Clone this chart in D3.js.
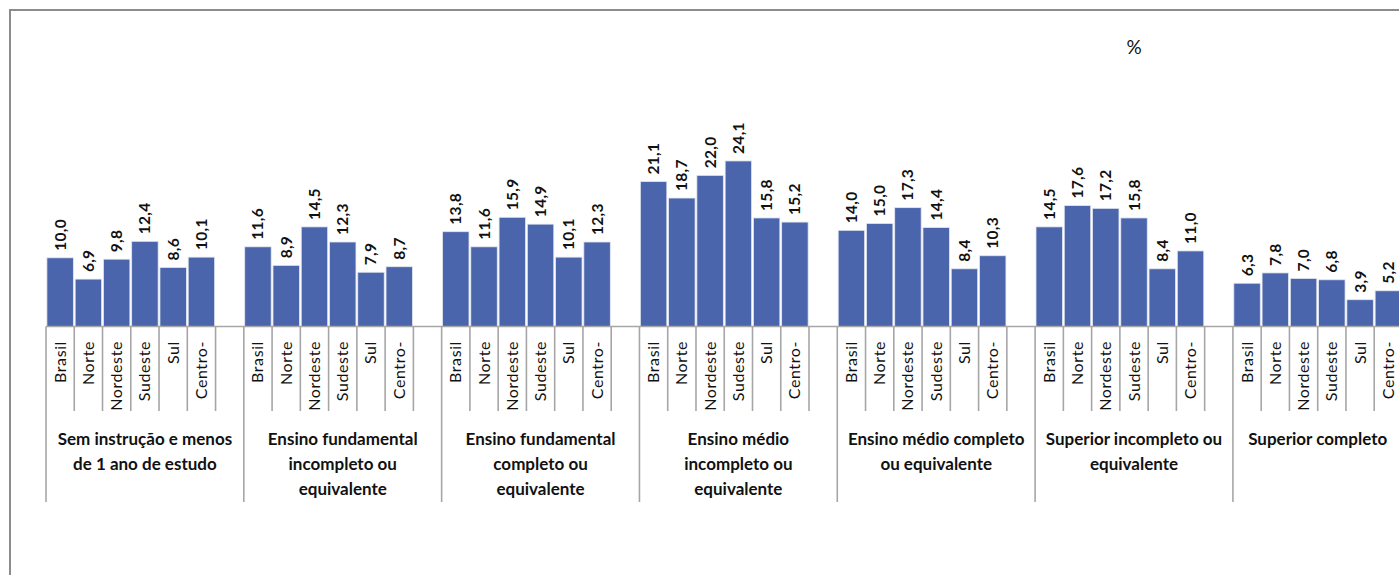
<!DOCTYPE html>
<html><head><meta charset="utf-8">
<script src="https://cdn.jsdelivr.net/npm/d3@7"></script>
<style>html,body{margin:0;padding:0;background:#fff;overflow:hidden}</style>
</head><body>
<svg id="c" width="1399" height="575"></svg>
<script>
const regions = ["Brasil","Norte","Nordeste","Sudeste","Sul","Centro-"];
const groupLabels = [
  ["Sem instrução e menos","de 1 ano de estudo"],
  ["Ensino fundamental","incompleto ou","equivalente"],
  ["Ensino fundamental","completo ou","equivalente"],
  ["Ensino médio","incompleto ou","equivalente"],
  ["Ensino médio completo","ou equivalente"],
  ["Superior incompleto ou","equivalente"],
  ["Superior completo"]
];
const g1 = [10.0, 6.9, 9.8, 12.4, 8.6, 10.1];
const g2 = [11.6, 8.9, 14.5, 12.3, 7.9, 8.7];
const g3 = [13.8, 11.6, 15.9, 14.9, 10.1, 12.3];
const g4 = [21.1, 18.7, 22.0, 24.1, 15.8, 15.2];
const g5 = [14.0, 15.0, 17.3, 14.4, 8.4, 10.3];
const g6 = [14.5, 17.6, 17.2, 15.8, 8.4, 11.0];
const g7 = [6.3, 7.8, 7.0, 6.8, 3.9, 5.2];
const groupValues = [g1,g2,g3,g4,g5,g6,g7];
const unitLabel = "%";

// Build category slots: each group has 6 regions + 1 blank spacer (except last)
const slots = [];
groupValues.forEach((vals, gi) => {
  vals.forEach((v, ri) => slots.push({key: gi+"-"+ri, g: gi, r: ri, v: v, label: regions[ri]}));
  if (gi < groupValues.length - 1) slots.push({key: gi+"-blank", g: gi, r: -1, v: null, label: ""});
});

const svg = d3.select("#c");
const x0 = 46, baseY = 326.5, slotW = 28.26;
const x = d3.scaleBand().domain(slots.map(d => d.key)).range([x0, x0 + slots.length * slotW]).paddingInner(0).paddingOuter(0);
const y = d3.scaleLinear().domain([0, 30]).range([baseY, baseY - 30 * 6.87]);
const FONT = "Lato, 'Open Sans', sans-serif";

// frame
svg.append("rect").attr("x", 10).attr("y", 10).attr("width", 1420).attr("height", 620)
  .attr("fill", "none").attr("stroke", "#8c8c8c").attr("stroke-width", 2);

// "%"
svg.append("text").attr("x", 1134).attr("y", 54).attr("text-anchor", "middle")
  .attr("font-family", FONT).attr("font-size", 19).attr("fill", "#111").text(unitLabel);

// bars
const barSlots = slots.filter(d => d.v !== null);
const pad = 0.9;
svg.append("g").selectAll("rect").data(barSlots).join("rect")
  .attr("x", d => x(d.key) + pad)
  .attr("y", d => y(d.v))
  .attr("width", x.bandwidth() - 2 * pad)
  .attr("height", d => y(0) - y(d.v))
  .attr("fill", "#4a65ac")
  .attr("stroke", "#e3e7f1").attr("stroke-width", 0.8);

// value labels
svg.append("g").selectAll("text").data(barSlots).join("text")
  .attr("transform", d => `translate(${x(d.key) + x.bandwidth()/2 + 5.5},${y(d.v) - 7}) rotate(-90)`)
  .attr("text-anchor", "start")
  .attr("font-family", FONT).attr("font-weight", "bold")
  .attr("font-size", 15.5).attr("letter-spacing", 0.3).attr("fill", "#111")
  .text(d => d3.format(".1f")(d.v).replace(".", ","));

// axis line
const axisG = svg.append("g").attr("stroke", "#a6a6a6").attr("stroke-width", 1.6);
axisG.append("line").attr("x1", x0).attr("x2", 1410).attr("y1", baseY).attr("y2", baseY);

// dividers
const boundaries = [];
slots.forEach((d, i) => {
  const isGroupStart = i === 0 || slots[i-1].g !== d.g;
  boundaries.push({x: x(d.key), long: isGroupStart});
});
boundaries.push({x: x0 + slots.length * slotW, long: true});
axisG.selectAll("line.div").data(boundaries).join("line").attr("class", "div")
  .attr("x1", d => d.x).attr("x2", d => d.x)
  .attr("y1", baseY).attr("y2", d => d.long ? 502 : 411);

// region labels (rotated)
svg.append("g").selectAll("text").data(barSlots).join("text")
  .attr("transform", d => `translate(${x(d.key) + x.bandwidth()/2 + 5.5},341) rotate(-90)`)
  .attr("text-anchor", "end")
  .attr("font-family", FONT)
  .attr("font-size", 16).attr("letter-spacing", 0.6).attr("fill", "#111")
  .text(d => d.label);

// group labels
groupLabels.forEach((lines, gi) => {
  const gs = slots.filter(d => d.g === gi);
  const gx0 = x(gs[0].key), gx1 = x(gs[gs.length-1].key) + x.bandwidth();
  const cx = (gx0 + gx1) / 2;
  const t = svg.append("text").attr("text-anchor", "middle")
    .attr("font-family", FONT).attr("font-weight", "bold")
    .attr("font-size", 17).attr("fill", "#111");
  lines.forEach((ln, li) => {
    t.append("tspan").attr("x", cx).attr("y", 445 + li * 25).text(ln);
  });
});
</script>
</body></html>
